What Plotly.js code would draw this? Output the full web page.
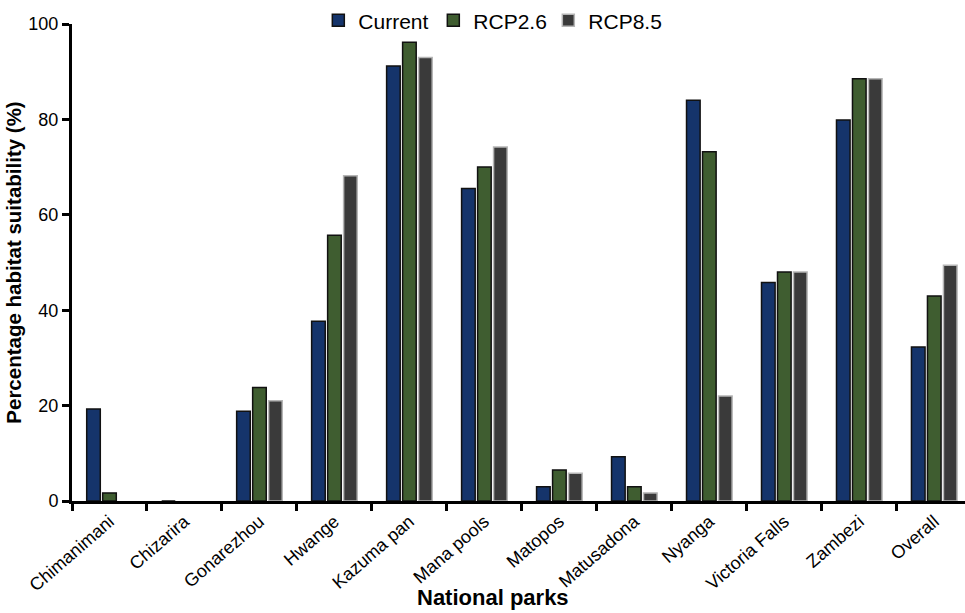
<!DOCTYPE html>
<html>
<head>
<meta charset="utf-8">
<script src="https://cdn.plot.ly/plotly-3.0.1.min.js"></script>
<style>html,body{margin:0;padding:0;background:#fff;}#chart{width:965px;height:613px;}</style>
</head>
<body>
<div id="chart"></div>
<script>
const parks = ["Chimanimani","Chizarira","Gonarezhou","Hwange","Kazuma pan","Mana pools","Matopos","Matusadona","Nyanga","Victoria Falls","Zambezi","Overall"];
const current = [19.3, 0, 18.8, 37.7, 91.2, 65.5, 3.0, 9.3, 84.0, 45.8, 79.9, 32.3];
const rcp26 = [1.7, null, 23.8, 55.7, 96.2, 70.0, 6.5, 3.0, 73.2, 48.0, 88.5, 43.0];
const rcp85 = [null, null, 21.0, 68.2, 93.0, 74.2, 5.8, 1.7, 22.0, 48.0, 88.5, 49.4];
const yTicks = [0, 20, 40, 60, 80, 100];

const FONT = "Liberation Sans, Arial, sans-serif";
const traces = [
  {type:"bar", name:"Current", x:parks, y:current, marker:{color:"#15346b", line:{color:"#111", width:1.5}}},
  {type:"bar", name:"RCP2.6", x:parks, y:rcp26, marker:{color:"#3f5d30", line:{color:"#111", width:1.5}}},
  {type:"bar", name:"RCP8.5", x:parks, y:rcp85, marker:{color:"#3a3a3a", line:{color:"#b5b5b5", width:1.5}}}
];
const layout = {
  width:965, height:613,
  margin:{l:72, r:0, t:20, b:112, pad:0},
  paper_bgcolor:"#fff", plot_bgcolor:"#fff",
  font:{family:FONT, color:"#000", size:18},
  barmode:"group", bargap:0.36, bargroupgap:0.15,
  showlegend:true,
  legend:{orientation:"h", x:0.469, xanchor:"center", y:1.05, yanchor:"top", font:{size:21, family:FONT}, traceorder:"normal", itemwidth:30, entrywidth:70, entrywidthmode:"pixels", bgcolor:"rgba(0,0,0,0)"},
  xaxis:{
    type:"category", range:[-0.5, 11.41], showline:true, linecolor:"#000", linewidth:3,
    ticks:"outside", tickson:"boundaries", ticklen:7, tickwidth:3, tickcolor:"#000",
    tickangle:-41, tickfont:{size:18, family:FONT}, showgrid:false, zeroline:false, automargin:false
  },
  yaxis:{
    range:[0,100], tickvals:yTicks, showline:true, linecolor:"#000", linewidth:3,
    ticks:"outside", ticklen:7, tickwidth:3, tickcolor:"#000", showgrid:false, zeroline:false,
    tickfont:{size:18, family:FONT},
    title:{text:"<b>Percentage habitat suitability (%)</b>", font:{size:20.5, family:FONT}, standoff:2}, automargin:false
  },
  annotations:[{
    text:"<b>National parks</b>", xref:"paper", yref:"paper", x:0.471, y:-0.202, xanchor:"center", yanchor:"middle",
    showarrow:false, font:{size:22, family:FONT, color:"#000"}
  }]
};
Plotly.newPlot("chart", traces, layout, {displayModeBar:false, staticPlot:true});
</script>
</body>
</html>
